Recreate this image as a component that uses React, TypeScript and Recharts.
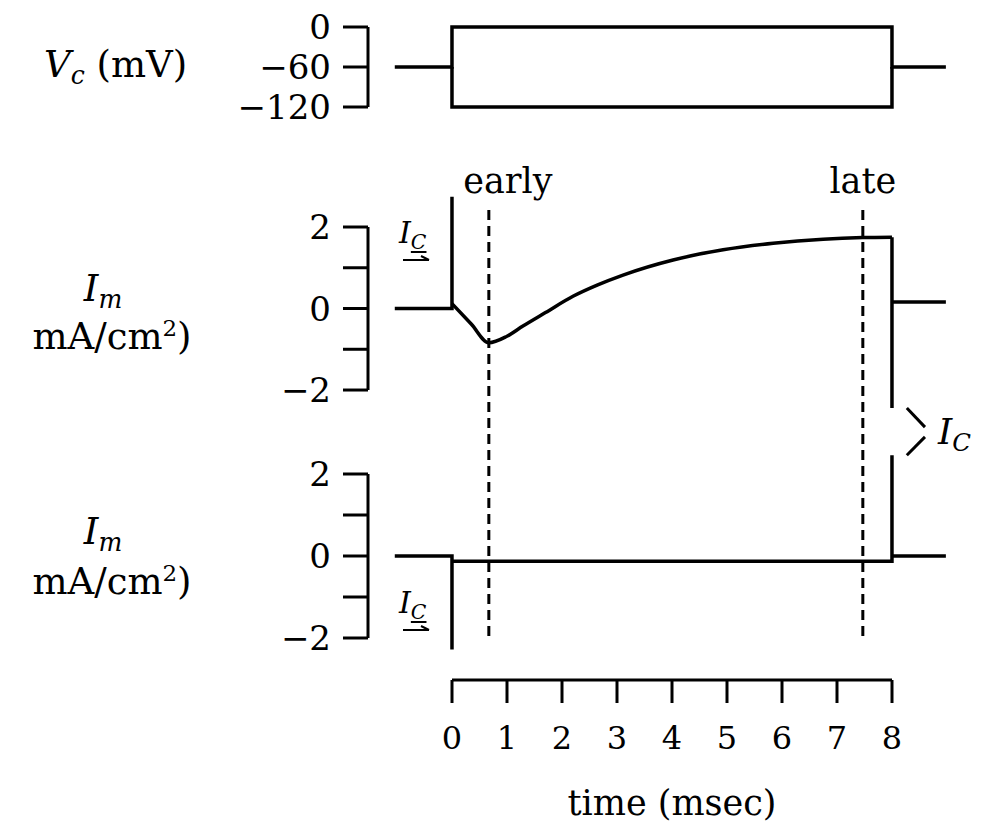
import { LineChart, Line, XAxis, YAxis, ReferenceLine } from 'recharts'

// time axis (msec) shared by every panel
const X_MIN = -1.527
const X_MAX = 9.055
const timeTicks = [0, 1, 2, 3, 4, 5, 6, 7, 8]

// command voltage: step to 0 mV and step to -120 mV from -60 mV
const vcTicks = [0, -60, -120]
const vcDepol = [
  { t: -1.04, v: -60 },
  { t: 0, v: -60 },
  { t: 0, v: 0 },
  { t: 8, v: 0 },
  { t: 8, v: -60 },
  { t: 8.98, v: -60 },
]
const vcHyper = [
  { t: 0, v: -60 },
  { t: 0, v: -120 },
  { t: 8, v: -120 },
  { t: 8, v: -60 },
]

// membrane current, depolarizing step
const imTicks = [-2, -1, 0, 1, 2]
const imDepolStart = [
  { t: -1.04, v: 0 },
  { t: 0, v: 0 },
  { t: 0, v: 2.74 },
  { t: 0, v: 0.12 },
]
const imDepolCurve = [
  { t: 0, v: 0.12 },
  { t: 0.35, v: -0.38 },
  { t: 0.67, v: -0.84 },
  { t: 1.0, v: -0.68 },
  { t: 1.29, v: -0.43 },
  { t: 1.7, v: -0.1 },
  { t: 2.2, v: 0.3 },
  { t: 2.65, v: 0.58 },
  { t: 3.11, v: 0.82 },
  { t: 4.02, v: 1.19 },
  { t: 4.93, v: 1.44 },
  { t: 5.84, v: 1.6 },
  { t: 6.75, v: 1.7 },
  { t: 7.47, v: 1.74 },
  { t: 8, v: 1.75 },
]
const imDepolEnd = [
  { t: 8, v: 1.75 },
  { t: 8, v: -2.44 },
  { t: 8, v: 0.16 },
  { t: 8.98, v: 0.16 },
]

// membrane current, hyperpolarizing step
const imHyper = [
  { t: -1.04, v: 0 },
  { t: 0, v: 0 },
  { t: 0, v: -2.28 },
  { t: 0, v: -0.13 },
  { t: 8, v: -0.13 },
  { t: 8, v: 2.46 },
  { t: 8, v: 0 },
  { t: 8.98, v: 0 },
]

const markerTimes = [0.67, 7.47]
const markerLabels = ['early', 'late']

const FONT = '"DejaVu Serif", serif'
const INK = '#000'
const line = { stroke: INK, strokeWidth: 3 }
const yTickText = { fill: INK, fontSize: 34, fontFamily: FONT }
const xTickText = { fill: INK, fontSize: 32, fontFamily: FONT }
const minus = (v: number) => (v < 0 ? `\u2212${-v}` : `${v}`)
const imFormat = (v: number) => (v % 2 === 0 ? minus(v) : '')

function MarkerLabel(props: any) {
  const { viewBox, text, shift } = props
  return (
    <text
      x={viewBox.x + shift}
      y={viewBox.y - 17}
      textAnchor="middle"
      fill={INK}
      fontSize={35}
      fontFamily={FONT}
    >
      {text}
    </text>
  )
}

const sub = { fontSize: '0.68em', verticalAlign: '-0.28em' }

function Ic({ left, top, size, arrow }: { left: number; top: number; size: number; arrow: boolean }) {
  return (
    <div style={{ position: 'absolute', left, top, fontFamily: FONT, fontSize: size, lineHeight: 1, fontStyle: 'italic' }}>
      <span>I</span>
      <span style={{ ...sub, textDecoration: arrow ? 'underline' : 'none' }}>C</span>
      {arrow && (
        <svg width={32} height={12} style={{ display: 'block', marginTop: 2 }}>
          <line x1={4} y1={6} x2={30} y2={6} stroke={INK} strokeWidth={2} />
          <path d="M22 2 L30 6" stroke={INK} strokeWidth={2} fill="none" />
        </svg>
      )}
    </div>
  )
}

function AxisTitle({ top, cx, children }: { top: number; cx: number; children: any }) {
  return (
    <div
      style={{
        position: 'absolute',
        left: cx - 110,
        width: 220,
        top,
        textAlign: 'center',
        fontFamily: FONT,
        fontSize: 37,
        lineHeight: 1,
        color: INK,
      }}
    >
      {children}
    </div>
  )
}

const sup = { fontSize: '0.62em', verticalAlign: '0.55em' }
const abs = { position: 'absolute' as const, left: 0, top: 0 }

export default function App() {
  return (
    <div style={{ position: 'absolute', left: 0, top: 0, width: 1001, height: 830, background: '#fff', overflow: 'hidden' }}>
      {/* Vc panel */}
      <div style={abs}>
        <LineChart width={1001} height={135} margin={{ top: 27, right: 51, bottom: 28, left: 0 }}>
          <XAxis type="number" dataKey="t" domain={[X_MIN, X_MAX]} hide allowDataOverflow />
          <YAxis
            type="number"
            domain={[-120, 0]}
            ticks={vcTicks}
            interval={0}
            width={368}
            tickSize={25}
            tickMargin={12}
            axisLine={line}
            tickLine={line}
            tick={yTickText}
            tickFormatter={minus}
          />
          <Line data={vcDepol} dataKey="v" type="linear" stroke={INK} strokeWidth={3.5} dot={false} isAnimationActive={false} />
          <Line data={vcHyper} dataKey="v" type="linear" stroke={INK} strokeWidth={3.5} dot={false} isAnimationActive={false} />
        </LineChart>
      </div>

      {/* Im panel, depolarizing step */}
      <div style={abs}>
        <LineChart width={1001} height={660} margin={{ top: 194.4, right: 51, bottom: 249.6, left: 0 }}>
          <XAxis type="number" dataKey="t" domain={[X_MIN, X_MAX]} hide allowDataOverflow />
          <YAxis
            type="number"
            domain={[-2.5, 2.8]}
            ticks={imTicks}
            interval={0}
            width={368}
            tickSize={25}
            tickMargin={12}
            axisLine={false}
            tickLine={line}
            tick={yTickText}
            tickFormatter={imFormat}
          />
          <ReferenceLine segment={[{ x: X_MIN, y: -2 }, { x: X_MIN, y: 2 }]} stroke={INK} strokeWidth={3} ifOverflow="visible" />
          {markerTimes.map((t, i) => (
            <ReferenceLine
              key={t}
              segment={[{ x: t, y: 2.42 }, { x: t, y: -8.18 }]}
              stroke={INK}
              strokeWidth={3}
              strokeDasharray="10 6"
              ifOverflow="visible"
              label={<MarkerLabel text={markerLabels[i]} shift={i === 0 ? 19 : 0} />}
            />
          ))}
          <ReferenceLine segment={[{ x: 8.27, y: -2.44 }, { x: 8.6, y: -2.91 }]} stroke={INK} strokeWidth={3} ifOverflow="visible" />
          <ReferenceLine segment={[{ x: 8.6, y: -3.15 }, { x: 8.27, y: -3.6 }]} stroke={INK} strokeWidth={3} ifOverflow="visible" />
          <Line data={imDepolStart} dataKey="v" type="linear" stroke={INK} strokeWidth={3.5} dot={false} isAnimationActive={false} />
          <Line data={imDepolCurve} dataKey="v" type="monotone" stroke={INK} strokeWidth={3.5} dot={false} isAnimationActive={false} />
          <Line data={imDepolEnd} dataKey="v" type="linear" stroke={INK} strokeWidth={3.5} dot={false} isAnimationActive={false} />
        </LineChart>
      </div>

      {/* Im panel, hyperpolarizing step */}
      <div style={abs}>
        <LineChart width={1001} height={660} margin={{ top: 449.4, right: 51, bottom: 5.6, left: 0 }}>
          <XAxis type="number" dataKey="t" domain={[X_MIN, X_MAX]} hide allowDataOverflow />
          <YAxis
            type="number"
            domain={[-2.4, 2.6]}
            ticks={imTicks}
            interval={0}
            width={368}
            tickSize={25}
            tickMargin={12}
            axisLine={false}
            tickLine={line}
            tick={yTickText}
            tickFormatter={imFormat}
          />
          <ReferenceLine segment={[{ x: X_MIN, y: -2 }, { x: X_MIN, y: 2 }]} stroke={INK} strokeWidth={3} ifOverflow="visible" />
          <Line data={imHyper} dataKey="v" type="linear" stroke={INK} strokeWidth={3.5} dot={false} isAnimationActive={false} />
        </LineChart>
      </div>

      {/* time axis */}
      <div style={abs}>
        <LineChart width={1001} height={825} margin={{ top: 670, right: 109, bottom: 0, left: 452 }}>
          <XAxis
            type="number"
            dataKey="t"
            domain={[0, 8]}
            ticks={timeTicks}
            interval={0}
            allowDataOverflow
            height={145}
            tickSize={23}
            tickMargin={23}
            axisLine={line}
            tickLine={line}
            tick={xTickText}
            label={{ value: 'time (msec)', position: 'insideBottom', offset: 10, fill: INK, fontSize: 35, fontFamily: FONT }}
          />
          <YAxis hide domain={[0, 1]} />
        </LineChart>
      </div>

      {/* axis titles */}
      <div style={{ position: 'absolute', left: 44, top: 46, fontFamily: FONT, fontSize: 37, lineHeight: 1, color: INK }}>
        <i>V</i>
        <i style={sub}>c</i> (mV)
      </div>
      <AxisTitle top={270} cx={103}>
        <i>I</i>
        <i style={sub}>m</i>
      </AxisTitle>
      <AxisTitle top={317} cx={112}>
        mA/cm<sup style={sup}>2</sup>)
      </AxisTitle>
      <AxisTitle top={513} cx={103}>
        <i>I</i>
        <i style={sub}>m</i>
      </AxisTitle>
      <AxisTitle top={562} cx={112}>
        mA/cm<sup style={sup}>2</sup>)
      </AxisTitle>

      <Ic left={399} top={218} size={30} arrow />
      <Ic left={399} top={588} size={30} arrow />
      <Ic left={938} top={414} size={36} arrow={false} />
    </div>
  )
}
